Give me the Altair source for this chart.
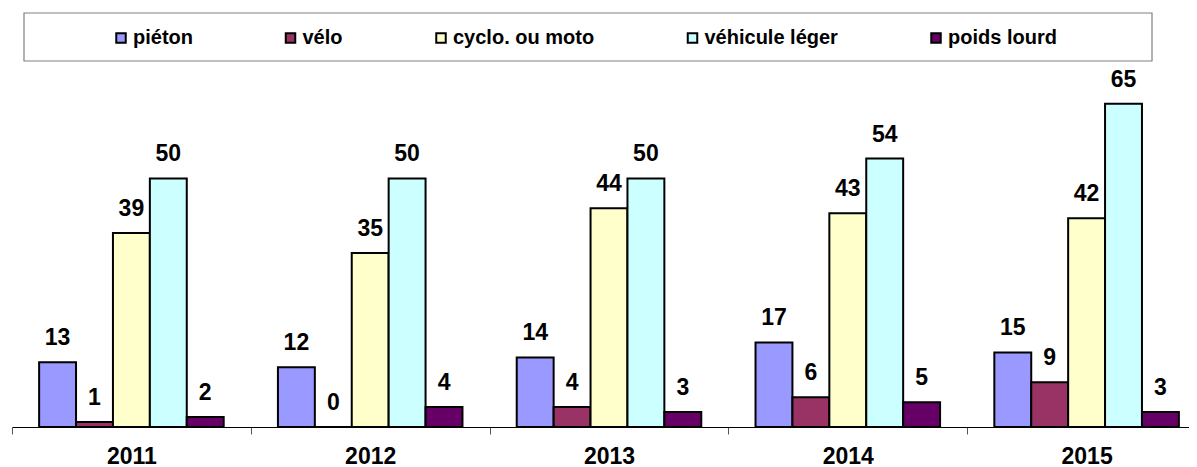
import altair as alt
import pandas as pd

years = ["2011", "2012", "2013", "2014", "2015"]
categories = ["piéton", "vélo", "cyclo. ou moto", "véhicule léger", "poids lourd"]
colors = ["#9999FF", "#993366", "#FFFFCC", "#CCFFFF", "#660066"]
pieton = [13, 12, 14, 17, 15]
velo = [1, 0, 4, 6, 9]
cyclo = [39, 35, 44, 43, 42]
vehicule = [50, 50, 50, 54, 65]
poids = [2, 4, 3, 5, 3]

series = [pieton, velo, cyclo, vehicule, poids]
rows = []
for cat, vals in zip(categories, series):
    for y, v in zip(years, vals):
        rows.append({"year": y, "cat": cat, "value": v})
df = pd.DataFrame(rows)

FONT = "Liberation Sans"

x_enc = alt.X("year:N", sort=years,
              scale=alt.Scale(paddingInner=0, paddingOuter=0, range=[0, 1194]),
              axis=alt.Axis(title=None, labelAngle=0, tickBand="extent",
                            labelFont=FONT, labelFontSize=23, labelFontWeight="bold",
                            labelColor="black", labelPadding=11,
                            domainColor="black", domainWidth=1.2,
                            tickColor="#555555", tickSize=7, tickWidth=1))
xo_enc = alt.XOffset("cat:N", sort=categories,
                     scale=alt.Scale(paddingInner=0, paddingOuter=0.735))
y_enc = alt.Y("value:Q", scale=alt.Scale(domain=[0, 70], nice=False), axis=None)

bars = alt.Chart(df).mark_bar(stroke="black", strokeWidth=2).encode(
    x=x_enc, xOffset=xo_enc, y=y_enc,
    color=alt.Color("cat:N", sort=categories,
                    scale=alt.Scale(domain=categories, range=colors),
                    legend=alt.Legend(title=None, orient="none", direction="horizontal",
                                      legendX=99, legendY=-51, columns=5,
                                      columnPadding=87.5, padding=0,
                                      symbolType="square", symbolSize=90,
                                      symbolStrokeColor="black", symbolStrokeWidth=2,
                                      symbolOpacity=1,
                                      labelFont=FONT, labelFontSize=20, labelFontWeight="bold",
                                      labelColor="black", labelOffset=2)),
)

labels = alt.Chart(df).mark_text(baseline="alphabetic", dy=-17, font=FONT, fontSize=23,
                                 fontWeight="bold", color="black").encode(
    x=x_enc, xOffset=xo_enc, y=y_enc, text="value:Q"
)

box = alt.Chart(pd.DataFrame({"k": [0]})).mark_rect(fill="white", stroke="#808080", strokeWidth=1.2).encode(
    x=alt.value(12), x2=alt.value(1140), y=alt.value(-66), y2=alt.value(-18)
)

chart = alt.layer(box, bars, labels).properties(
    width=1177, height=348,
    autosize=alt.AutoSizeParams(type="none"),
    padding={"left": 4, "top": 71, "right": 0, "bottom": 45},
).configure_view(stroke=None)

chart.save("out.html", embed_options={"renderer": "svg", "actions": False})
